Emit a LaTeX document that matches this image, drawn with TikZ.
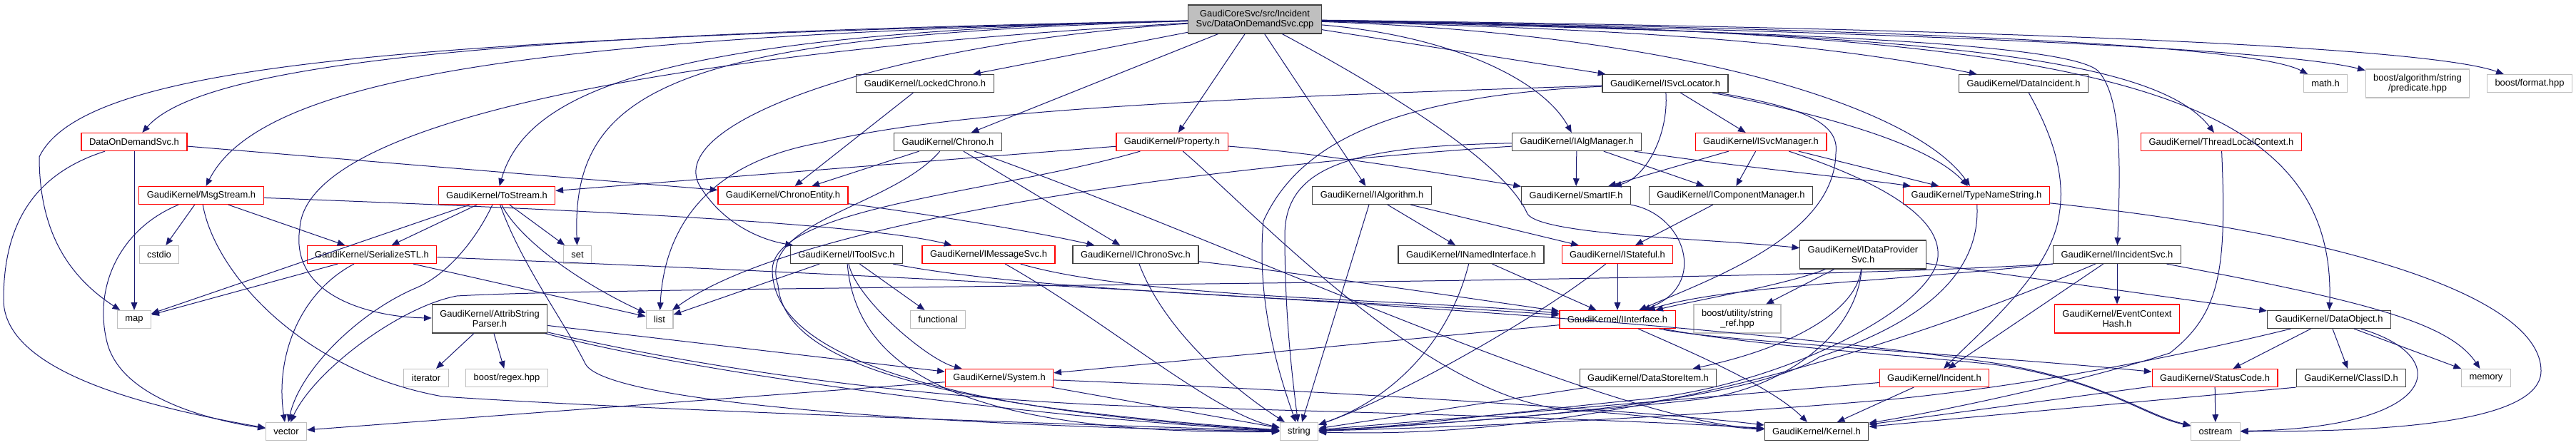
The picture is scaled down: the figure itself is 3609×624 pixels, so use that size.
\documentclass[tikz,border=0pt]{standalone}
\usepackage{fontspec}
\setmainfont{Liberation Sans}
\usetikzlibrary{arrows.meta,calc,positioning}
\definecolor{edgeblue}{RGB}{25,25,112}
\definecolor{boxgrey}{RGB}{191,191,191}
\tikzset{
	inc graph/.style={
		x=0.75pt, y=-0.75pt,
		every node/.style={font=\fontsize{9.7}{10.5}\selectfont, inner xsep=8.25pt, inner ysep=2pt,
			minimum height=18.75pt, line width=0.9pt, align=center},
		dep/.style={draw=edgeblue, line width=0.75pt, -{Triangle[length=8pt,width=6.5pt]}}
		},
	hdr/.style={draw=black!75},
	trunc/.style={draw=red},
	ext/.style={draw=boxgrey},
	src/.style={draw=black!75, fill=boxgrey},
	two/.style={minimum height=30pt}
}

\begin{document}
\begin{tikzpicture}[inc graph]
	\useasboundingbox (0,0) rectangle (3609,624);
	% headers, row by row
	\node[src,two] (root) at (1758,27) {GaudiCoreSvc/src/Incident\\Svc/DataOnDemandSvc.cpp};
	\node[hdr] (lockedchrono) at (1296,117) {GaudiKernel/LockedChrono.h};
	\node[hdr] (isvclocator) at (2333,117) {GaudiKernel/ISvcLocator.h};
	\node[hdr] (dataincident) at (2835,117) {GaudiKernel/DataIncident.h};
	\node[ext] (mathh) at (3258,117) {math.h};
	\node[ext,two] (predicate) at (3387,117) {boost/algorithm/string\\/predicate.hpp};
	\node[ext] (format) at (3544,117) {boost/format.hpp};
	\node[trunc] (dod) at (188,199) {DataOnDemandSvc.h};
	\node[hdr] (chrono) at (1328,199) {GaudiKernel/Chrono.h};
	\node[trunc] (property) at (1642,199) {GaudiKernel/Property.h};
	\node[hdr] (ialgmanager) at (2209,199) {GaudiKernel/IAlgManager.h};
	\node[trunc] (isvcmanager) at (2467,199) {GaudiKernel/ISvcManager.h};
	\node[trunc] (threadlocal) at (3112,199) {GaudiKernel/ThreadLocalContext.h};
	\node[trunc] (msgstream) at (282,274) {GaudiKernel/MsgStream.h};
	\node[trunc] (tostream) at (696,274) {GaudiKernel/ToStream.h};
	\node[trunc] (chronoentity) at (1097,274) {GaudiKernel/ChronoEntity.h};
	\node[hdr] (ialgorithm) at (1922,274) {GaudiKernel/IAlgorithm.h};
	\node[hdr] (smartif) at (2208,274) {GaudiKernel/SmartIF.h};
	\node[hdr] (icompmgr) at (2425,274) {GaudiKernel/IComponentManager.h};
	\node[trunc] (typenamestring) at (2769,274) {GaudiKernel/TypeNameString.h};
	\node[ext] (cstdio) at (223,357) {cstdio};
	\node[trunc] (serializestl) at (521,357) {GaudiKernel/SerializeSTL.h};
	\node[ext] (set) at (809,357) {set};
	\node[hdr] (itoolsvc) at (1186,357) {GaudiKernel/IToolSvc.h};
	\node[trunc] (imessagesvc) at (1385,357) {GaudiKernel/IMessageSvc.h};
	\node[hdr] (ichronosvc) at (1591,357) {GaudiKernel/IChronoSvc.h};
	\node[hdr] (inamedif) at (2061,357) {GaudiKernel/INamedInterface.h};
	\node[trunc] (istateful) at (2266,357) {GaudiKernel/IStateful.h};
	\node[hdr,two] (idataprov) at (2610,357) {GaudiKernel/IDataProvider\\Svc.h};
	\node[hdr] (iincidentsvc) at (2966,357) {GaudiKernel/IIncidentSvc.h};
	\node[ext] (map) at (188,448) {map};
	\node[hdr,two] (attrib) at (686,447) {GaudiKernel/AttribString\\Parser.h};
	\node[ext] (list) at (924,448) {list};
	\node[ext] (functional) at (1314,448) {functional};
	\node[trunc] (iinterface) at (2266,448) {GaudiKernel/IInterface.h};
	\node[ext,two] (stringref) at (2434,447) {boost/utility/string\\\_ref.hpp};
	\node[trunc,two] (evctxhash) at (2966,447) {GaudiKernel/EventContext\\Hash.h};
	\node[hdr] (dataobject) at (3263,448) {GaudiKernel/DataObject.h};
	\node[ext] (iterator) at (597,530) {iterator};
	\node[ext] (regex) at (710,530) {boost/regex.hpp};
	\node[trunc] (system) at (1400,530) {GaudiKernel/System.h};
	\node[hdr] (datastoreitem) at (2309,530) {GaudiKernel/DataStoreItem.h};
	\node[trunc] (incident) at (2710,530) {GaudiKernel/Incident.h};
	\node[trunc] (statuscode) at (3103,530) {GaudiKernel/StatusCode.h};
	\node[hdr] (classid) at (3294,530) {GaudiKernel/ClassID.h};
	\node[ext] (memory) at (3483,530) {memory};
	\node[ext] (vector) at (401,605) {vector};
	\node[ext] (string) at (1820,605) {string};
	\node[hdr] (kernelh) at (2545,605) {GaudiKernel/Kernel.h};
	\node[ext] (ostream) at (3104,605) {ostream};

	% includes of the source file
	\draw[dep] (root) .. controls (900,45) and (300,70) .. (dod);
	\draw[dep] (root) .. controls (800,50) and (370,100) .. (msgstream);
	\draw[dep] (root) .. controls (600,55) and (120,85) .. (55,220) .. controls (55,330) and (100,390) .. (map);
	\draw[dep] (root) .. controls (950,45) and (740,120) .. (tostream);
	\draw[dep] (root) .. controls (950,50) and (800,120) .. (set);
	\draw[dep] (root) .. controls (1000,70) and (430,160) .. (420,320) .. controls (405,420) and (530,445) .. (attrib);
	\draw[dep] (root) .. controls (1250,60) and (930,170) .. (980,260) .. controls (1010,310) and (1060,335) .. (itoolsvc);
	\draw[dep] (root) -- (lockedchrono);
	\draw[dep] (root) -- (chrono);
	\draw[dep] (root) -- (property);
	\draw[dep] (root) -- (ialgorithm);
	\draw[dep] (root) -- (isvclocator);
	\draw[dep] (root) .. controls (1950,130) and (2110,230) .. (2140,300) .. controls (2160,330) and (2400,335) .. (idataprov);
	\draw[dep] (root) .. controls (2030,50) and (2160,110) .. (ialgmanager);
	\draw[dep] (root) .. controls (2200,40) and (2500,50) .. (dataincident);
	\draw[dep] (root) .. controls (2400,50) and (2690,160) .. (typenamestring);
	\draw[dep] (root) .. controls (2700,45) and (3020,80) .. (threadlocal);
	\draw[dep] (root) .. controls (2600,40) and (3150,60) .. (mathh);
	\draw[dep] (root) .. controls (2700,45) and (3200,70) .. (predicate);
	\draw[dep] (root) .. controls (2800,40) and (3400,65) .. (format);
	\draw[dep] (root) .. controls (2500,45) and (2900,60) .. (2940,100) .. controls (2975,140) and (2970,250) .. (iincidentsvc);
	\draw[dep] (root) .. controls (2900,45) and (3275,110) .. (dataobject);

	% DataOnDemandSvc.h, MsgStream.h, ToStream.h
	\draw[dep] (dod) -- (map);
	\draw[dep] (dod) .. controls (60,240) and (5,300) .. (5,420) .. controls (5,520) and (200,570) .. (vector);
	\draw[dep] (dod) -- (chronoentity);
	\draw[dep] (msgstream) -- (cstdio);
	\draw[dep] (msgstream) .. controls (170,320) and (130,400) .. (150,480) .. controls (170,560) and (300,590) .. (vector);
	\draw[dep] (msgstream) .. controls (300,380) and (420,520) .. (620,556) .. controls (900,575) and (1500,595) .. (string);
	\draw[dep] (msgstream) -- (serializestl);
	\draw[dep] (msgstream) .. controls (700,290) and (1200,310) .. (imessagesvc);
	\draw[dep] (tostream) -- (map);
	\draw[dep] (tostream) -- (serializestl);
	\draw[dep] (tostream) .. controls (670,330) and (630,385) .. (580,405) .. controls (500,440) and (420,520) .. (vector);
	\draw[dep] (tostream) -- (set);
	\draw[dep] (tostream) .. controls (730,340) and (820,400) .. (list);
	\draw[dep] (tostream) .. controls (730,370) and (790,450) .. (820,510) .. controls (850,570) and (1400,600) .. (string);
	\draw[dep] (serializestl) -- (map);
	\draw[dep] (serializestl) .. controls (420,410) and (385,500) .. (vector);
	\draw[dep] (serializestl) -- (list);
	\draw[dep] (serializestl) .. controls (1600,400) and (2400,450) .. (2800,510) .. controls (2950,535) and (3000,580) .. (ostream);

	% chrono and property
	\draw[dep] (lockedchrono) -- (chronoentity);
	\draw[dep] (chrono) -- (chronoentity);
	\draw[dep] (chrono) -- (ichronosvc);
	\draw[dep] (chrono) .. controls (1700,330) and (2250,590) .. (kernelh);
	\draw[dep] (chrono) .. controls (1250,290) and (1060,310) .. (1090,400) .. controls (1100,530) and (1400,575) .. (string);
	\draw[dep] (chronoentity) .. controls (1300,300) and (1450,325) .. (ichronosvc);
	\draw[dep] (property) -- (tostream);
	\draw[dep] (property) .. controls (1400,270) and (1080,290) .. (1082,380) .. controls (1085,520) and (1400,580) .. (string);
	\draw[dep] (property) .. controls (1760,300) and (2000,560) .. (2200,575) .. controls (2350,585) and (2420,600) .. (kernelh);
	\draw[dep] (property) .. controls (1850,215) and (2000,240) .. (smartif);

	% service and algorithm interfaces
	\draw[dep] (ialgmanager) -- (smartif);
	\draw[dep] (ialgmanager) -- (icompmgr);
	\draw[dep] (ialgmanager) .. controls (2400,230) and (2600,250) .. (typenamestring);
	\draw[dep] (ialgmanager) .. controls (1600,240) and (1100,320) .. (list);
	\draw[dep] (ialgmanager) .. controls (1900,205) and (1800,230) .. (1800,330) .. controls (1800,450) and (1812,540) .. (string);
	\draw[dep] (isvclocator) .. controls (1800,135) and (1350,150) .. (1150,200) .. controls (980,230) and (930,330) .. (list);
	\draw[dep] (isvclocator) .. controls (1950,135) and (1820,200) .. (1770,310) .. controls (1760,420) and (1790,520) .. (string);
	\draw[dep] (isvclocator) .. controls (2338,190) and (2305,250) .. (smartif);
	\draw[dep] (isvclocator) -- (isvcmanager);
	\draw[dep] (isvclocator) .. controls (2550,160) and (2700,200) .. (typenamestring);
	\draw[dep] (isvclocator) .. controls (2520,150) and (2578,170) .. (2572,215) .. controls (2570,330) and (2400,390) .. (iinterface);
	\draw[dep] (isvcmanager) -- (icompmgr);
	\draw[dep] (isvcmanager) -- (typenamestring);
	\draw[dep] (isvcmanager) -- (smartif);
	\draw[dep] (isvcmanager) .. controls (2620,250) and (2720,300) .. (2715,360) .. controls (2710,430) and (2500,540) .. (2300,560) .. controls (2100,580) and (1950,600) .. (string);
	\draw[dep] (icompmgr) -- (istateful);
	\draw[dep] (smartif) .. controls (2360,300) and (2395,400) .. (iinterface);
	\draw[dep] (typenamestring) .. controls (2775,380) and (2700,450) .. (2550,500) .. controls (2450,565) and (2100,590) .. (string);
	\draw[dep] (typenamestring) .. controls (3300,330) and (3560,420) .. (3560,520) .. controls (3560,600) and (3300,605) .. (ostream);
	\draw[dep] (dataincident) .. controls (2870,180) and (2895,240) .. (2885,300) .. controls (2875,380) and (2780,460) .. (incident);
	\draw[dep] (threadlocal) .. controls (3120,380) and (3110,440) .. (3040,495) .. controls (2900,540) and (2700,580) .. (kernelh);
	\draw[dep] (ialgorithm) -- (inamedif);
	\draw[dep] (ialgorithm) -- (istateful);
	\draw[dep] (ialgorithm) -- (string);
	\draw[dep] (idataprov) -- (stringref);
	\draw[dep] (idataprov) .. controls (2500,400) and (2380,420) .. (iinterface);
	\draw[dep] (idataprov) -- (dataobject);
	\draw[dep] (idataprov) .. controls (2600,440) and (2500,490) .. (datastoreitem);
	\draw[dep] (idataprov) .. controls (2600,470) and (2500,545) .. (2380,560) .. controls (2200,580) and (1950,600) .. (string);
	\draw[dep] (iincidentsvc) -- (evctxhash);
	\draw[dep] (iincidentsvc) -- (incident);
	\draw[dep] (iincidentsvc.south west) .. controls (2400,400) and (900,400) .. (640,415) .. controls (560,430) and (440,520) .. (vector);
	\draw[dep] (iincidentsvc.south west) .. controls (2650,395) and (2420,400) .. (iinterface);
	\draw[dep] (iincidentsvc) .. controls (2750,450) and (2300,620) .. (string);
	\draw[dep] (iincidentsvc) .. controls (3300,420) and (3430,450) .. (memory);
	\draw[dep] (inamedif) -- (iinterface);
	\draw[dep] (inamedif) .. controls (2030,480) and (1950,560) .. (string);
	\draw[dep] (istateful) -- (iinterface);
	\draw[dep] (istateful) .. controls (2150,450) and (1950,560) .. (string);
	\draw[dep] (itoolsvc) -- (list);
	\draw[dep] (itoolsvc) -- (functional);
	\draw[dep] (itoolsvc) .. controls (1200,420) and (1300,505) .. (system);
	\draw[dep] (itoolsvc) .. controls (1200,520) and (1350,610) .. (string);
	\draw[dep] (itoolsvc) .. controls (1450,410) and (1900,420) .. (iinterface);
	\draw[dep] (imessagesvc) .. controls (1550,450) and (1700,580) .. (string);
	\draw[dep] (imessagesvc) .. controls (1600,420) and (2000,420) .. (iinterface);
	\draw[dep] (ichronosvc) .. controls (1630,460) and (1720,540) .. (string);
	\draw[dep] (ichronosvc) .. controls (1800,380) and (2000,410) .. (iinterface);

	% lower levels
	\draw[dep] (attrib) -- (iterator);
	\draw[dep] (attrib) -- (regex);
	\draw[dep] (attrib) -- (system);
	\draw[dep] (attrib) .. controls (1000,520) and (1300,560) .. (1600,570) .. controls (2000,580) and (2300,590) .. (kernelh);
	\draw[dep] (attrib) .. controls (1000,530) and (1500,590) .. (string);
	\draw[dep] (system) -- (string);
	\draw[dep] (system) -- (vector);
	\draw[dep] (system) .. controls (1800,545) and (2300,575) .. (kernelh);
	\draw[dep] (iinterface) -- (system);
	\draw[dep] (iinterface) .. controls (2360,490) and (2480,540) .. (kernelh);
	\draw[dep] (iinterface) .. controls (2400,478) and (2800,500) .. (statuscode);
	\draw[dep] (iinterface) .. controls (2450,485) and (2700,500) .. (2800,512) .. controls (2950,535) and (3000,582) .. (ostream);
	\draw[dep] (incident) -- (string);
	\draw[dep] (incident) -- (kernelh);
	\draw[dep] (datastoreitem) -- (string);
	\draw[dep] (dataobject) -- (statuscode);
	\draw[dep] (dataobject) -- (classid);
	\draw[dep] (dataobject) -- (memory);
	\draw[dep] (dataobject) .. controls (3440,500) and (3420,600) .. (ostream);
	\draw[dep] (dataobject) .. controls (3050,500) and (2850,540) .. (2650,560) .. controls (2300,590) and (2000,600) .. (string);
	\draw[dep] (statuscode) -- (ostream);
	\draw[dep] (statuscode) -- (kernelh);
	\draw[dep] (classid.south west) -- (kernelh);
\end{tikzpicture}
\end{document}
